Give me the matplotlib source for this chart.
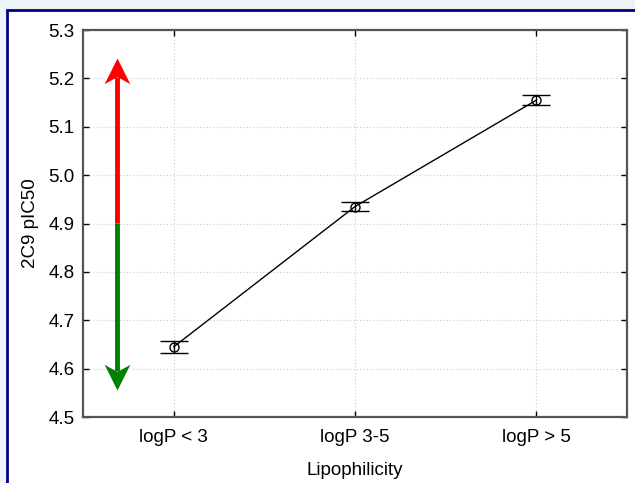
import numpy as np
import matplotlib.pyplot as plt
from matplotlib.patches import Rectangle
from matplotlib.path import Path

plt.rcParams['font.family'] = ['Liberation Sans', 'DejaVu Sans']

# Mean 2C9 pIC50 per lipophilicity bin, with error bar half-widths
categories = ["logP < 3", "logP 3-5", "logP > 5"]
pic50 = [4.645, 4.935, 5.155]
err = [0.012, 0.010, 0.011]

# Two-colour trend arrow (red above the split, green below)
arrow_x = -0.31
arrow_split = 4.9
arrow_top = 5.242
arrow_bottom = 4.556

fig = plt.figure(figsize=(6.35, 4.83), dpi=100)
fig.patch.set_facecolor('#eef3f8')
fig.patches.append(Rectangle((7 / 635, -0.05), 1.05, 1 - 10 / 483 + 0.05,
                             transform=fig.transFigure, facecolor='white',
                             edgecolor='#000080', lw=2, zorder=-1))

ax = fig.add_axes([83 / 635, 1 - 417 / 483, 544 / 635, 387 / 483])
ax.set_zorder(1)
x = np.arange(len(categories))

ax.plot(x, pic50, color='black', lw=1, zorder=3)
ax.errorbar(x, pic50, yerr=err, fmt='o', mfc='none', mec='black', ms=6.5,
            mew=1, ecolor='black', elinewidth=1, capsize=10, capthick=1,
            zorder=4)

# arrow heads as custom path markers, tip at the marker origin
head_up = Path([(0, 0), (-0.5, -1), (0, -0.72), (0.5, -1), (0, 0)],
               [Path.MOVETO, Path.LINETO, Path.LINETO, Path.LINETO, Path.CLOSEPOLY])
head_down = Path([(0, 0), (-0.5, 1), (0, 0.72), (0.5, 1), (0, 0)],
                 [Path.MOVETO, Path.LINETO, Path.LINETO, Path.LINETO, Path.CLOSEPOLY])
ax.plot([arrow_x, arrow_x], [arrow_split, arrow_top - 0.04], color='red',
        lw=3.5, solid_capstyle='butt', zorder=2)
ax.plot([arrow_x], [arrow_top], marker=head_up, ms=37, color='red',
        mec='red', mew=0, zorder=2)
ax.plot([arrow_x, arrow_x], [arrow_split, arrow_bottom + 0.04], color='green',
        lw=3.5, solid_capstyle='butt', zorder=2)
ax.plot([arrow_x], [arrow_bottom], marker=head_down, ms=37, color='green',
        mec='green', mew=0, zorder=2)

ax.set_xlim(-0.5, 2.5)
ax.set_ylim(4.5, 5.3)
ax.set_xticks(x)
ax.set_xticklabels(categories)
ax.set_yticks(np.arange(4.5, 5.31, 0.1))
ax.yaxis.set_major_formatter(plt.FormatStrFormatter('%.1f'))
ax.tick_params(direction='in', length=4, width=1, top=True, right=True,
               labelsize=13.5, colors='black')
ax.tick_params(axis='y', pad=6)
ax.tick_params(axis='x', pad=9)
ax.grid(True, linestyle=(0, (1, 2)), color='#cccccc', lw=0.8)
ax.set_axisbelow(True)
for s in ax.spines.values():
    s.set_color('#555555')
    s.set_linewidth(1.6)

ax.set_xlabel("Lipophilicity", fontsize=13.5, labelpad=11)
ax.set_ylabel("2C9 pIC50", fontsize=13.5, labelpad=7)

fig.savefig("out.png", dpi=100, facecolor=fig.get_facecolor())
